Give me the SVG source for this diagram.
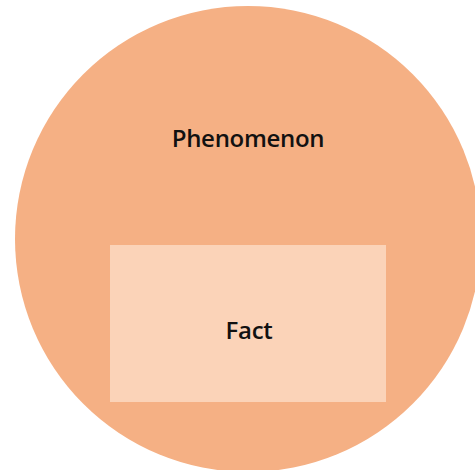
<svg xmlns="http://www.w3.org/2000/svg" width="475" height="470" viewBox="0 0 475 470">
  <style>
    .lbl { font-family: "Open Sans", "Noto Sans", sans-serif; font-weight: 600; font-size: 24px; letter-spacing: -0.3px; fill: #111; text-anchor: middle; }
  </style>
  <rect width="475" height="470" fill="#ffffff"/>
  <g id="phenomenon">
    <circle cx="248" cy="239" r="233" fill="#F5B084"/>
    <text class="lbl" x="248" y="147">Phenomenon</text>
  </g>
  <g id="fact">
    <rect x="110" y="245" width="276" height="157" fill="#FBD3B8"/>
    <text class="lbl" x="249" y="339">Fact</text>
  </g>
  <g id="connectors"/>
</svg>
